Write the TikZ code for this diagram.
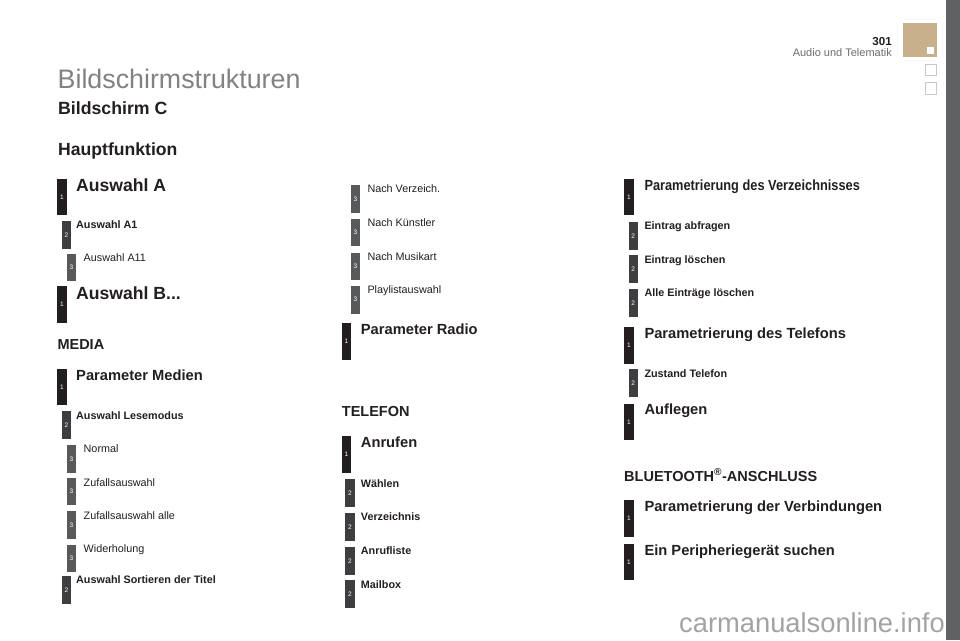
\documentclass[tikz,border=0pt]{standalone}
\usepackage{fontspec}
\setmainfont{Liberation Sans}
\newcommand\myfs[1]{\fontsize{#1}{#1}\selectfont}
\definecolor{ink}{HTML}{231F20}
\definecolor{barone}{HTML}{231F20}
\definecolor{bartwo}{HTML}{3E3E40}
\definecolor{barthree}{HTML}{58595B}
\definecolor{titlegray}{HTML}{808285}
\definecolor{tan}{HTML}{C9B08C}
\definecolor{sidegray}{HTML}{606163}
\definecolor{boxgray}{HTML}{C8C8C8}
\definecolor{wmgray}{HTML}{A3A3A3}
\definecolor{headgray}{HTML}{6D6E71}
\tikzset{
  b1/.style={fill=barone, minimum width=9.3pt, minimum height=36.7pt, inner sep=0pt, anchor=north west, text=white, font=\myfs{6.5}},
  b2/.style={fill=bartwo, minimum width=9.3pt, minimum height=27.7pt, inner sep=0pt, anchor=north west, text=white, font=\myfs{6.5}},
  b3/.style={fill=barthree, minimum width=9.3pt, minimum height=27.7pt, inner sep=0pt, anchor=north west, text=white, font=\myfs{6.5}},
  tA/.style={anchor=base west, inner sep=0pt, text=ink, font=\bfseries\myfs{17.6}},
  t1/.style={anchor=base west, inner sep=0pt, text=ink, font=\bfseries\myfs{14.7}},
  t2/.style={anchor=base west, inner sep=0pt, text=ink, font=\bfseries\myfs{10.8}},
  t3/.style={anchor=base west, inner sep=0pt, text=ink, font=\myfs{10.8}},
  hd/.style={anchor=base west, inner sep=0pt, text=ink, font=\bfseries\myfs{14.5}},
}
\begin{document}
\begin{tikzpicture}[x=1pt,y=-1pt]
\useasboundingbox (0,0) rectangle (960,640);
\fill[white] (0,0) rectangle (960,640);
% side decorations
\fill[sidegray] (946,0) rectangle (960,640);
\fill[tan] (902.7,22.7) rectangle (937.3,56.7);
\fill[white] (927,47.3) rectangle (934,54);
\draw[boxgray, line width=0.8pt] (925.3,64) rectangle (936.7,75.3);
\draw[boxgray, line width=0.8pt] (925.3,82.7) rectangle (936.7,94);
\node[anchor=base east, inner sep=0pt, text=ink, font=\bfseries\myfs{11.6}] (pagenum) at (892,45) {301};
\node[anchor=base east, inner sep=0pt, text=headgray, font=\myfs{11}] (chapter) at (892,56.5) {Audio und Telematik};
\node[anchor=base east, inner sep=0pt, text=wmgray, font=\myfs{27.3}] (wm) at (945,632) {carmanualsonline.info};
% titles
\node[anchor=base west, inner sep=0pt, text=titlegray, font=\myfs{26.8}] (title) at (57.5,88.3) {Bildschirmstrukturen};
\node[anchor=base west, inner sep=0pt, text=ink, font=\bfseries\myfs{17.7}] (screen) at (58,114.3) {Bildschirm C};
\node[anchor=base west, inner sep=0pt, text=ink, font=\bfseries\myfs{17.6}] (main) at (58,155.7) {Hauptfunktion};
% column 1
\node[b1] (bAA) at (57,178.3) {1};
\node[tA] (tAA) at (76,191.7) {Auswahl A};
\node[b2] (bA1) at (61.7,220.7) {2};
\node[t2] (tA1) at (76,228.5) {Auswahl A1};
\node[b3] (bA11) at (66.7,253.3) {3};
\node[t3] (tA11) at (83.5,261) {Auswahl A11};
\node[b1] (bAB) at (57,286) {1};
\node[tA] (tAB) at (76,299.5) {Auswahl B...};
\node[hd] (media) at (57.3,349) {MEDIA};
\node[b1] (bPM) at (57,368.3) {1};
\node[t1] (tPM) at (76,380) {Parameter Medien};
\node[b2] (bLM) at (61.7,410.7) {2};
\node[t2] (tLM) at (76,419.3) {Auswahl Lesemodus};
\node[b3] (bNo) at (66.7,445) {3};
\node[t3] (tNo) at (83.5,452.7) {Normal};
\node[b3] (bZu) at (66.7,477.3) {3};
\node[t3] (tZu) at (83.5,486) {Zufallsauswahl};
\node[b3] (bZa) at (66.7,511) {3};
\node[t3] (tZa) at (83.5,519.3) {Zufallsauswahl alle};
\node[b3] (bWi) at (66.7,544.3) {3};
\node[t3] (tWi) at (83.5,552.7) {Widerholung};
\node[b2] (bSo) at (61.7,576) {2};
\node[t2] (tSo) at (76,583.3) {Auswahl Sortieren der Titel};
% column 2
\node[b3] (bNV) at (350.7,185) {3};
\node[t3] (tNV) at (367.3,192.7) {Nach Verzeich.};
\node[b3] (bNK) at (350.7,218.3) {3};
\node[t3] (tNK) at (367.3,226) {Nach Künstler};
\node[b3] (bNM) at (350.7,252.3) {3};
\node[t3] (tNM) at (367.3,260) {Nach Musikart};
\node[b3] (bPL) at (350.7,285.7) {3};
\node[t3] (tPL) at (367.3,293.4) {Playlistauswahl};
\node[b1] (bPR) at (341.5,322.7) {1};
\node[t1] (tPR) at (360.7,334) {Parameter Radio};
\node[hd] (telefon) at (341.7,416.7) {TELEFON};
\node[b1] (bAN) at (341.5,436) {1};
\node[t1] (tAN) at (360.7,447.5) {Anrufen};
\node[b2] (bWa) at (345,479) {2};
\node[t2] (tWa) at (360.7,487) {Wählen};
\node[b2] (bVz) at (345,512.7) {2};
\node[t2] (tVz) at (360.7,520.7) {Verzeichnis};
\node[b2] (bAl) at (345,546.7) {2};
\node[t2] (tAl) at (360.7,554.5) {Anrufliste};
\node[b2] (bMB) at (345,580) {2};
\node[t2] (tMB) at (360.7,588) {Mailbox};
% column 3
\node[b1] (bPV) at (624,178.3) {1};
\node[t1] (tPV) at (644.3,190.5) {\scalebox{0.87}[1]{Parametrierung des Verzeichnisses}};
\node[b2] (bEA) at (628.3,221.7) {2};
\node[t2] (tEA) at (644.3,229.5) {Eintrag abfragen};
\node[b2] (bEL) at (628.3,255) {2};
\node[t2] (tEL) at (644.3,263) {Eintrag löschen};
\node[b2] (bAE) at (628.3,289) {2};
\node[t2] (tAE) at (644.3,296.5) {Alle Einträge löschen};
\node[b1] (bPT) at (624,326.7) {1};
\node[t1] (tPT) at (644.3,338) {Parametrierung des Telefons};
\node[b2] (bZT) at (628.3,369) {2};
\node[t2] (tZT) at (644.3,377) {Zustand Telefon};
\node[b1] (bAU) at (624,403.3) {1};
\node[t1] (tAU) at (644.3,414) {Auflegen};
\node[hd] (bt) at (624,481) {BLUETOOTH\textsuperscript{®}-ANSCHLUSS};
\node[b1] (bPVb) at (624,500) {1};
\node[t1] (tPVb) at (644.3,511.7) {Parametrierung der Verbindungen};
\node[b1] (bEP) at (624,543.3) {1};
\node[t1] (tEP) at (644.3,555) {Ein Peripheriegerät suchen};
\end{tikzpicture}
\end{document}
